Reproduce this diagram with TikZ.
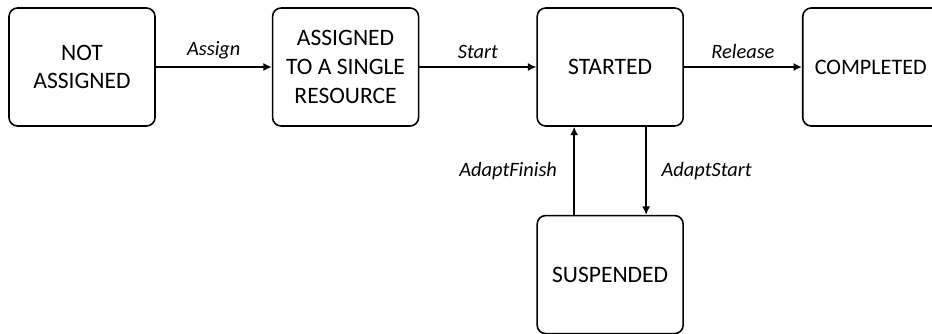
\documentclass[tikz,border=0pt]{standalone}
\usepackage{fontspec}
\setmainfont{Carlito}
\usetikzlibrary{positioning,arrows.meta}

\begin{document}
\begin{tikzpicture}[
		state/.style={draw, line width=0.9pt, rounded corners=0.17cm, minimum width=2.92cm, minimum height=2.36cm, align=center, font=\fontsize{13.4}{16.4}\selectfont},
		trans/.style={line width=0.9pt, -{Latex[length=4.8pt,width=4.6pt]}},
		lbl/.style={font=\fontsize{11.6}{13}\selectfont\itshape}
	]
				\clip (0,0) rectangle (18.64,6.66);

				\node[state] (na) at (1.64,5.32) {NOT\\ASSIGNED};
				\node[state, right=2.32cm of na] (asg) {ASSIGNED\\TO A SINGLE\\RESOURCE};
				\node[state, right=2.34cm of asg] (st) {STARTED};
				\node[state, right=2.36cm of st, font=\fontsize{12.6}{16}\selectfont] (comp) {COMPLETED\hspace*{0.2cm}};
				\node[state, below=1.76cm of st] (sus) {SUSPENDED};

				\draw[trans] (na) -- node[lbl, above=1pt] {Assign} (asg);
				\draw[trans] (asg) -- node[lbl, above=1pt] {Start} (st);
				\draw[trans] (st) -- node[lbl, above=1pt] {Release} (comp);

				\draw[trans] ([xshift=-0.72cm]sus.north) -- node[lbl, left=6pt] {AdaptFinish} ([xshift=-0.72cm]st.south);
				\draw[trans] ([xshift=0.72cm]st.south) -- node[lbl, right=5pt] {AdaptStart} ([xshift=0.72cm]sus.north);

			\end{tikzpicture}
\end{document}
